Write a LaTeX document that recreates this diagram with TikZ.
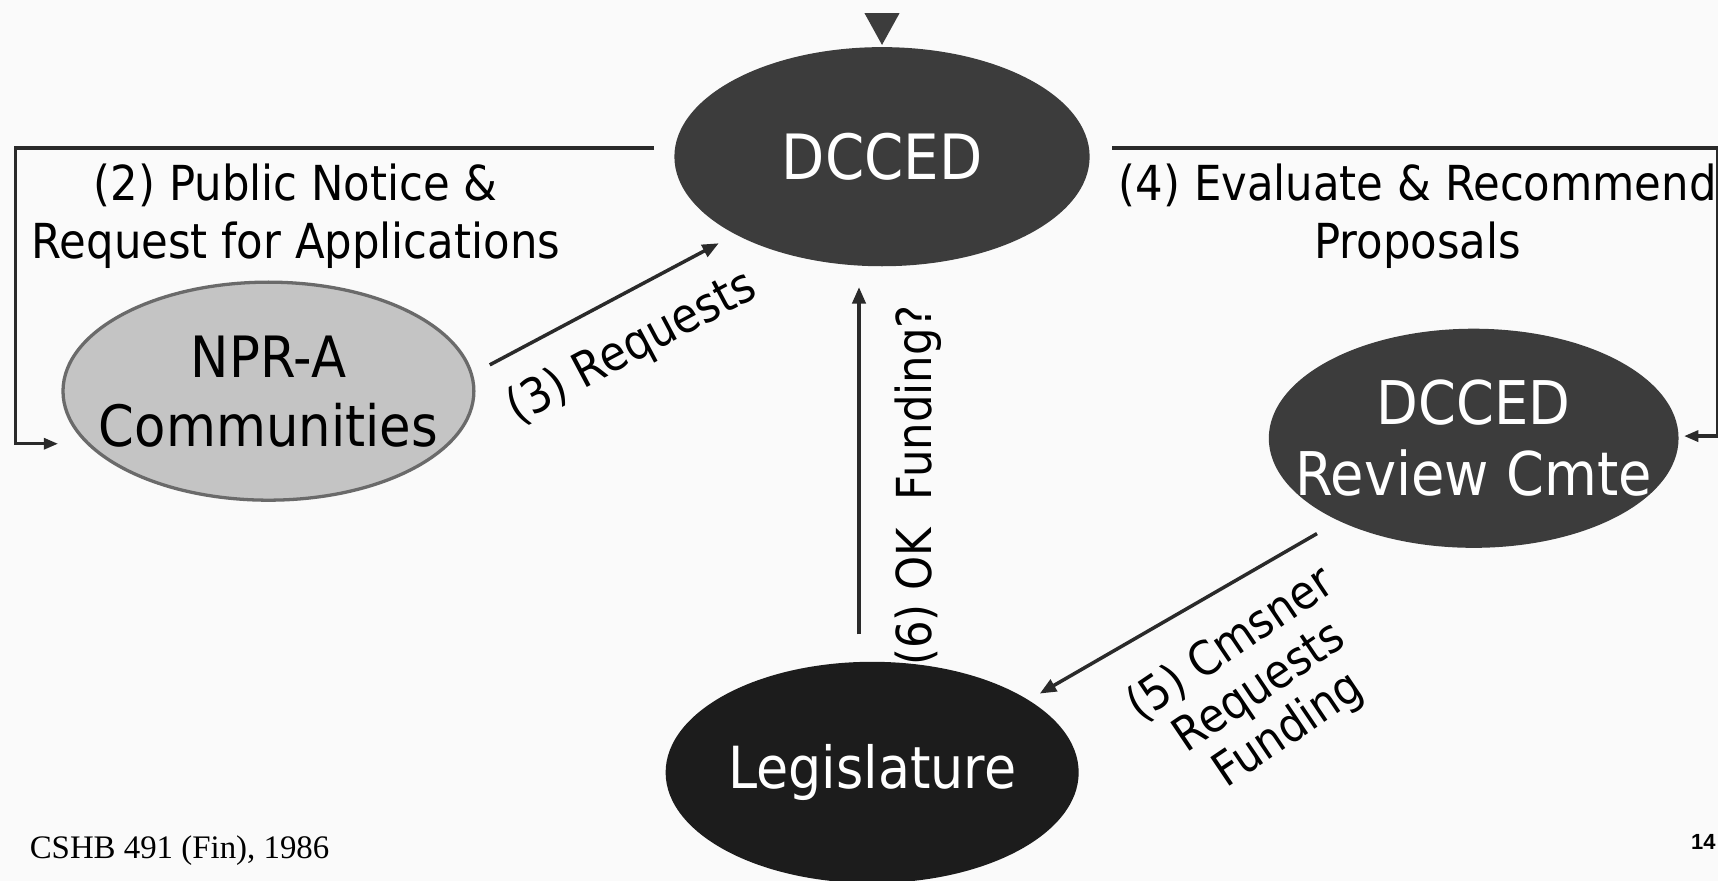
\documentclass[tikz,border=0pt]{standalone}
\usepackage{fontspec}
\setmainfont{DejaVu Sans}[FakeStretch=0.9]
\newfontfamily\timesf{Liberation Serif}
\newfontfamily\arialf{Liberation Sans}
\usetikzlibrary{shapes.geometric,arrows.meta}
\definecolor{bg}{HTML}{FAFAFA}
\definecolor{darkoval}{HTML}{3C3C3C}
\definecolor{blackoval}{HTML}{1C1C1C}
\definecolor{lightoval}{HTML}{C4C4C4}
\definecolor{lightedge}{HTML}{6A6A6A}
\definecolor{linecol}{HTML}{2A2A2A}
\tikzset{
  oval/.style={ellipse, inner xsep=-120pt, inner ysep=-60pt, align=center},
  lbl/.style={font=\fontsize{44}{53}\selectfont, text=black, align=center, inner sep=0pt},
  conn/.style={draw=linecol, line width=3.2pt},
  arr/.style={conn, -{Triangle[length=15pt,width=12pt]}},
}
\begin{document}
\begin{tikzpicture}[x=1pt,y=-1pt]
\fill[bg] (0,0) rectangle (1568,804);
\useasboundingbox (0,0) rectangle (1568,804);

% ovals
\node[oval, fill=darkoval, minimum width=379pt, minimum height=200pt,
      text=white, font=\fontsize{57}{66}\selectfont] (dcced) at (805,143) {DCCED};
\node[oval, fill=lightoval, draw=lightedge, line width=3pt, minimum width=375pt, minimum height=199pt,
      text=black, font=\fontsize{52}{63}\selectfont] (npr) at (245,357) {NPR-A\\Communities};
\node[oval, fill=darkoval, minimum width=374pt, minimum height=200pt,
      text=white, font=\fontsize{55}{65}\selectfont] (rev) at (1345,400) {DCCED\\Review Cmte};
\node[oval, fill=blackoval, minimum width=377pt, minimum height=202pt,
      text=white, font=\fontsize{53}{62}\selectfont] (leg) at (796,705) {Legislature};

% top triangle
\fill[darkoval] (789,12) -- (821,12) -- (805,41) -- cycle;

% (2) bracket
\coordinate (b1) at (597,135);
\coordinate (b2) at (14,135);
\coordinate (b3) at (14,405);
\coordinate (b4) at (53,405);
\draw[arr, line width=3pt, -{Triangle[length=13pt,width=10pt]}] (b1) -- (b2) -- (b3) -- (b4);
\node[lbl] (l2) at (270,197) {(2) Public Notice \&\\Request for Applications};

% (4) bracket
\coordinate (c1) at (1015,135);
\coordinate (c2) at (1568,135);
\coordinate (c3) at (1568,398);
\coordinate (c4) at (1537,398);
\draw[arr, line width=3pt, -{Triangle[length=13pt,width=10pt]}] (c1) -- (c2) -- (c3) -- (c4);
\node[lbl] (l4) at (1294,197) {(4) Evaluate \& Recommend\\Proposals};

% (3)
\coordinate (a3s) at (447,333);
\coordinate (a3e) at (656,222);
\draw[arr] (a3s) -- (a3e);
\node[lbl, rotate=28] (l3) at (577,318) {(3) Requests};

% (6)
\coordinate (a6s) at (784,579);
\coordinate (a6e) at (784,262);
\draw[arr] (a6s) -- (a6e);
\node[lbl, rotate=90] (l6) at (838,443) {(6) OK\ \ Funding?};

% (5)
\coordinate (a5s) at (1202,487);
\coordinate (a5e) at (949,633);
\draw[arr] (a5s) -- (a5e);
\node[lbl, rotate=34, font=\fontsize{43}{47}\selectfont] (l5) at (1150,628) {(5) Cmsner\\Requests\\Funding};

% footer
\node[anchor=west, inner sep=0pt, font=\timesf\fontsize{30}{32}\selectfont] (src) at (27,776) {CSHB 491 (Fin), 1986};
\node[anchor=east, inner sep=0pt, font=\arialf\bfseries\fontsize{20}{22}\selectfont] (pg) at (1566,768) {14};
\end{tikzpicture}
\end{document}
